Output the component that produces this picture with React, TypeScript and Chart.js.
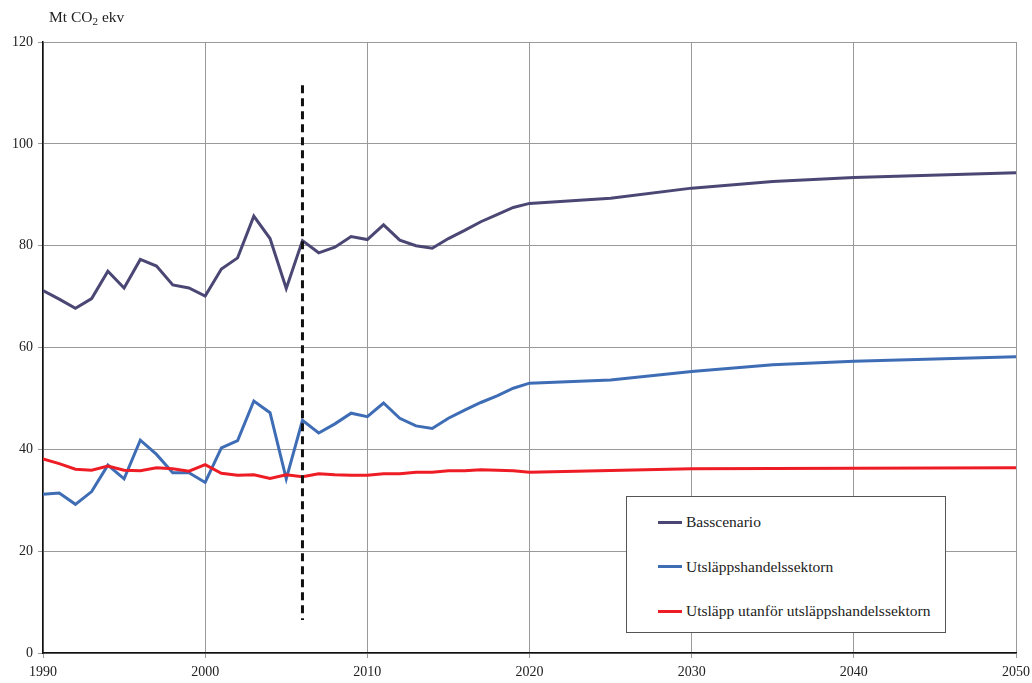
import React, { useEffect, useRef } from "react";
import { Chart, registerables } from "chart.js";

Chart.register(...registerables);

const years = [
  1990, 1991, 1992, 1993, 1994, 1995, 1996, 1997, 1998, 1999,
  2000, 2001, 2002, 2003, 2004, 2005, 2006, 2007, 2008, 2009,
  2010, 2011, 2012, 2013, 2014, 2015, 2016, 2017, 2018, 2019,
  2020, 2025, 2030, 2035, 2040, 2050,
];

const basscenario = [
  71.2, 69.5, 67.7, 69.6, 75.0, 71.7, 77.3, 76.0, 72.3, 71.7,
  70.1, 75.4, 77.6, 85.8, 81.4, 71.6, 81.0, 78.6, 79.7, 81.8,
  81.2, 84.1, 81.1, 80.0, 79.5, 81.4, 83.0, 84.7, 86.1, 87.5,
  88.3, 89.3, 91.3, 92.6, 93.4, 94.3,
];

const handel = [
  31.2, 31.4, 29.2, 31.7, 36.9, 34.2, 41.8, 39.0, 35.4, 35.4,
  33.5, 40.3, 41.7, 49.5, 47.2, 34.2, 45.7, 43.2, 45.0, 47.1,
  46.4, 49.1, 46.1, 44.6, 44.1, 46.1, 47.7, 49.2, 50.5, 52.0,
  53.0, 53.6, 55.3, 56.6, 57.3, 58.2,
];

const utanfor = [
  38.1, 37.2, 36.1, 35.9, 36.7, 35.9, 35.8, 36.4, 36.2, 35.7,
  37.0, 35.3, 34.9, 35.0, 34.3, 35.0, 34.6, 35.2, 35.0, 34.9,
  34.9, 35.2, 35.2, 35.5, 35.5, 35.8, 35.8, 36.0, 35.9, 35.8,
  35.5, 35.85, 36.2, 36.25, 36.3, 36.4,
];

const divider = { year: 2006, top: 111.5, bottom: 6.5 };

const seriesNames = [
  "Basscenario",
  "Utsläppshandelssektorn",
  "Utsläpp utanför utsläppshandelssektorn",
];
const seriesColors = ["#4b4774", "#3e6db5", "#ee1c25"];

const xTicks = [1990, 2000, 2010, 2020, 2030, 2040, 2050];

const FONT = "'Liberation Serif', 'DejaVu Serif', serif";

export default function App() {
  const ref = useRef<HTMLCanvasElement | null>(null);

  useEffect(() => {
    document.body.style.margin = "0";
    const ctx = ref.current!;
    const series = [basscenario, handel, utanfor];
    const datasets: any[] = series.map((vals, i) => ({
      label: seriesNames[i],
      data: years.map((y, j) => ({ x: y, y: vals[j] })),
      borderColor: seriesColors[i],
      backgroundColor: seriesColors[i],
      borderWidth: 3,
      pointRadius: 0,
      tension: 0,
      fill: false,
      order: i === 0 ? 3 : i === 1 ? 2 : 1,
    }));
    datasets.push({
      label: "divider",
      data: [
        { x: divider.year, y: divider.top },
        { x: divider.year, y: divider.bottom },
      ],
      borderColor: "#111",
      borderWidth: 3,
      borderDash: [8, 5],
      pointRadius: 0,
      fill: false,
      order: 0,
    });

    const chart = new Chart(ctx, {
      type: "line",
      data: { datasets },
      options: {
        animation: false,
        responsive: false,
        maintainAspectRatio: false,
        layout: { padding: { top: 42, right: 16, left: 0, bottom: 0 } },
        plugins: {
          legend: { display: false },
          tooltip: { enabled: false },
        },
        scales: {
          x: {
            type: "linear",
            min: 1990,
            max: 2050,
            afterBuildTicks: (scale: any) => {
              scale.ticks = xTicks.map((v) => ({ value: v }));
            },
            afterFit: (scale: any) => {
              scale.height = 30;
              scale.paddingRight = 0;
              scale.paddingLeft = 0;
            },
            ticks: {
              color: "#222",
              font: { family: FONT, size: 14 },
              padding: 6,
              maxRotation: 0,
              callback: (v: any) => String(v),
            },
            grid: {
              color: "#9a9a9a",
              lineWidth: 1,
              tickLength: 5,
              drawTicks: true,
            },
            border: { color: "#111", width: 1.5 },
          },
          y: {
            min: 0,
            max: 120,
            afterFit: (scale: any) => {
              scale.width = 43;
              scale.paddingTop = 0;
              scale.paddingBottom = 0;
            },
            ticks: {
              stepSize: 20,
              color: "#222",
              font: { family: FONT, size: 14 },
              padding: 5,
            },
            grid: {
              color: "#9a9a9a",
              lineWidth: 1,
              tickLength: 5,
            },
            border: { color: "#111", width: 1.5 },
          },
        },
      },
    });
    return () => chart.destroy();
  }, []);

  return (
    <div
      style={{
        position: "relative",
        width: 1032,
        height: 683,
        fontFamily: FONT,
        color: "#222",
        background: "#fff",
      }}
    >
      <canvas
        ref={ref}
        width={1032}
        height={683}
        style={{ position: "absolute", left: 0, top: 0, width: 1032, height: 683 }}
      />
      <div
        style={{
          position: "absolute",
          left: 49,
          top: 8,
          fontSize: 15.5,
          lineHeight: "18px",
          whiteSpace: "nowrap",
        }}
      >
        Mt CO<sub style={{ fontSize: 11, verticalAlign: "-3px" }}>2</sub> ekv
      </div>
      <div
        style={{
          position: "absolute",
          left: 626,
          top: 496,
          width: 320,
          height: 137,
          border: "1px solid #555",
          background: "#fff",
          boxSizing: "border-box",
        }}
      >
        {seriesNames.map((name, i) => (
          <div
            key={name}
            style={{
              position: "absolute",
              left: 31,
              top: 15 + i * 44.5,
              display: "flex",
              alignItems: "center",
              fontSize: 15.5,
              lineHeight: "20px",
              whiteSpace: "nowrap",
            }}
          >
            <span
              style={{
                display: "inline-block",
                width: 24,
                height: 3,
                background: seriesColors[i],
                marginRight: 4,
              }}
            />
            {name}
          </div>
        ))}
      </div>
    </div>
  );
}
